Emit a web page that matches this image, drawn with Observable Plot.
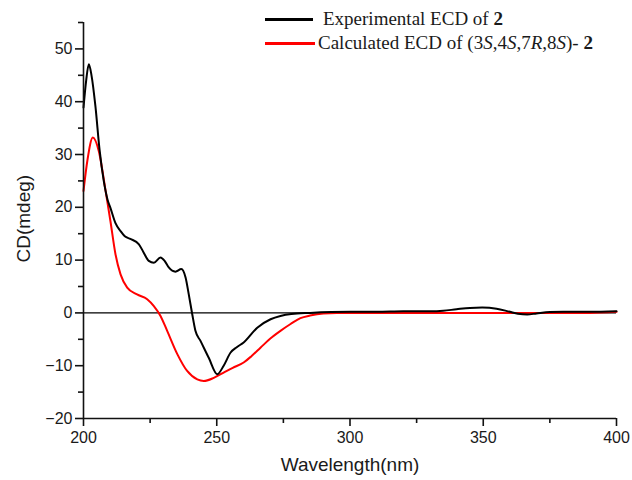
<!DOCTYPE html>
<html>
<head>
<meta charset="utf-8">
<script src="https://cdn.jsdelivr.net/npm/d3@7"></script>
<script src="https://cdn.jsdelivr.net/npm/@observablehq/plot@0.6"></script>
<style>
  html, body { margin: 0; padding: 0; background: #fff; }
  #wrap { position: relative; width: 632px; height: 480px; }
  #legend { position: absolute; left: 265px; top: 8px; font-family: "Liberation Serif", "Times New Roman", serif; font-size: 19px; color: #1a1a1a; }
  .row { position: absolute; white-space: nowrap; display: flex; align-items: center; }
  .sw { display: inline-block; width: 48px; height: 0; border-top: 3px solid; }
</style>
</head>
<body>
<div id="wrap"></div>
<script>
// Experimental ECD of 2
const expWl  = [200,201,202,203,204.5,206,207.6,209,210.1,212,213.9,215.5,217.6,220.8,222.5,224.5,226.4,228.9,230.5,232,234.5,236.7,238.3,239.5,240.8,242,243.9,247,250.2,252.6,255.2,257.5,260.1,265.2,270.2,273.9,278,285,300,310,320,330,335,340,345,349.6,355,360,363,366.5,370,375,380,390,400];
const expCD  = [38.9,44,47.1,45,39,31,25,21.5,19.9,17,15.5,14.5,14.0,13.0,11.5,9.85,9.5,10.5,9.8,8.6,7.8,8.3,6.7,3.5,-0.25,-3.4,-5.3,-8.5,-11.6,-10.0,-7.5,-6.5,-5.6,-2.8,-1.2,-0.57,-0.2,0,0.2,0.2,0.3,0.3,0.4,0.7,0.95,1.0,0.8,0.2,-0.15,-0.3,-0.1,0.15,0.2,0.2,0.3];
// Calculated ECD of (3S,4S,7R,8S)-2
const calWl  = [200,201.5,203.5,205.7,208.3,210.1,212,213.9,216.4,220.1,223.9,226.4,228.9,231.4,235.2,238.9,242.7,245.1,248.9,252.6,256,260.1,263,266.4,270,273.9,277.7,281.4,285,290,295,300,350,390,400];
const calCD  = [23.1,29,33.2,30.7,23.1,17.4,11.1,7.3,4.8,3.5,2.6,1.3,-0.57,-3.4,-7.8,-11,-12.6,-12.9,-12.3,-11.3,-10.4,-9.4,-8.2,-6.6,-4.9,-3.4,-2.1,-1.0,-0.5,-0.1,0,0,0,0,0.2];

const xMajor = [200,250,300,350,400];
const xMinor = [225,275,325,375];
const yMajor = [-20,-10,0,10,20,30,40,50];
const yMinor = [-15,-5,5,15,25,35,45,55];

const expData = expWl.map((w,i)=>({w, v: expCD[i]}));
const calData = calWl.map((w,i)=>({w, v: calCD[i]}));

const plot = Plot.plot({
  width: 632, height: 480,
  marginLeft: 83, marginRight: 16, marginTop: 22, marginBottom: 62,
  x: {domain: [200,400]},
  y: {domain: [-20,55]},
  style: {fontFamily: "'Liberation Sans', Arial, sans-serif", fontSize: "16px", color: "#1a1a1a", background: "#fff"},
  marks: [
    Plot.ruleY([0], {stroke: "#000", strokeWidth: 1.2}),
    Plot.line(calData, {x: "w", y: "v", stroke: "#ff0000", strokeWidth: 2, curve: "monotone-x"}),
    Plot.line(expData, {x: "w", y: "v", stroke: "#000", strokeWidth: 2, curve: "monotone-x"}),
    Plot.axisX({ticks: xMajor, tickSize: 8, tickPadding: 5, label: null, fontSize: 16, stroke: "#111", strokeWidth: 1.6}),
    Plot.axisX({ticks: xMinor, tickSize: 5, text: null, label: null, stroke: "#111", strokeWidth: 1.6}),
    Plot.axisY({ticks: yMajor, tickSize: 8, tickPadding: 3, label: null, fontSize: 16, stroke: "#111", strokeWidth: 1.6}),
    Plot.axisY({ticks: yMinor, tickSize: 5, text: null, label: null, stroke: "#111", strokeWidth: 1.6}),
    Plot.ruleX([200], {stroke: "#111", strokeWidth: 1.6}),
    Plot.ruleY([-20], {stroke: "#111", strokeWidth: 1.6}),
    Plot.text(["Wavelength(nm)"], {frameAnchor: "bottom", dy: 52, fontSize: 19, fill: "#1a1a1a"}),
    Plot.text(["CD(mdeg)"], {frameAnchor: "left", dx: -60, dy: 42, rotate: -90, fontSize: 19, fill: "#1a1a1a"})
  ]
});

const wrap = document.getElementById("wrap");
wrap.appendChild(plot);

const legend = document.createElement("div");
legend.id = "legend";
legend.innerHTML = `
  <div class="row" style="top:0px;left:0px"><span class="sw" style="border-color:#000"></span><span style="margin-left:10px">Experimental ECD of <b>2</b></span></div>
  <div class="row" style="top:24px;left:0px"><span class="sw" style="border-color:#ff0000;width:50px"></span><span style="margin-left:3px">Calculated ECD of (3<i>S</i>,4<i>S</i>,7<i>R</i>,8<i>S</i>)- <b>2</b></span></div>`;
wrap.appendChild(legend);
</script>
</body>
</html>
